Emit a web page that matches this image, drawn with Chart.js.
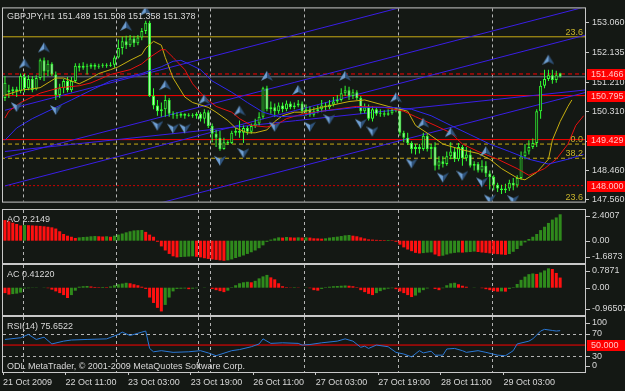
<!DOCTYPE html>
<html>
<head>
<meta charset="utf-8">
<script src="https://cdn.jsdelivr.net/npm/chart.js@4.4.0/dist/chart.umd.min.js"></script>
<style>
body { margin:0; background:#141814; width:625px; height:391px; overflow:hidden; position:relative; }
canvas { position:absolute; left:0; }
</style>
</head>
<body>
<canvas id="main" width="625" height="210" style="top:0px"></canvas>
<canvas id="ao" width="625" height="55" style="top:209px"></canvas>
<canvas id="ac" width="625" height="52" style="top:264px"></canvas>
<canvas id="rsi" width="625" height="75" style="top:316px"></canvas>
<script>
// GBPJPY H1, one value per bar (bar 0 = 21 Oct 19:00)
var opens = [150.72,150.96,150.93,150.99,150.93,151.37,151.02,151.31,150.99,151.34,
  151.89,151.54,151.78,151.45,150.81,151.02,151.25,150.96,151.25,151.72,
  151.66,151.72,151.69,151.75,151.69,151.72,151.75,151.72,151.75,151.98,
  152.27,152.48,152.36,152.57,152.42,152.60,152.80,153.06,150.78,150.49,
  150.31,150.37,150.66,150.23,150.20,150.17,150.23,150.17,150.20,150.17,
  150.23,150.08,150.28,149.85,149.61,149.49,149.14,149.35,149.32,149.64,
  149.70,149.64,149.79,149.67,149.85,149.93,150.14,151.02,150.37,150.43,
  150.31,150.49,150.37,150.55,150.43,150.49,150.55,150.31,150.37,150.20,
  150.31,150.37,150.49,150.43,150.52,150.61,150.66,150.87,150.96,150.78,
  150.90,150.72,150.31,150.43,150.08,150.37,150.23,150.25,150.20,150.25,
  150.34,150.37,149.64,149.49,149.32,149.14,149.20,149.14,149.55,149.14,
  149.20,148.62,148.76,148.67,148.91,149.06,148.82,149.20,148.85,148.97,
  148.62,148.67,148.47,148.62,148.38,148.27,148.03,147.91,147.86,147.91,
  148.09,148.00,148.24,148.91,149.06,149.20,149.32,150.31,151.10,151.31,
  151.43,151.28,151.489]
var highs = [151.40,151.13,151.07,151.07,151.48,151.48,151.43,151.40,151.43,151.95,
  151.98,151.89,151.83,151.54,151.16,151.31,151.37,151.37,151.80,151.80,
  151.83,151.78,151.80,151.80,151.78,151.80,151.80,151.83,152.04,152.54,
  152.62,152.65,152.68,152.65,152.68,152.89,153.12,153.12,151.02,150.66,
  150.58,150.81,150.72,150.31,150.28,150.28,150.25,150.25,150.25,150.28,
  150.28,150.37,150.34,149.93,149.73,149.70,149.49,149.41,149.70,149.79,
  150.02,149.87,149.85,149.93,150.08,150.28,151.07,151.10,150.61,150.55,
  150.58,150.58,150.64,150.61,150.58,150.66,150.61,150.52,150.46,150.43,
  150.49,150.66,150.58,150.66,150.75,150.81,151.02,151.10,151.07,150.99,
  150.96,150.78,150.55,150.52,150.46,150.43,150.37,150.34,150.37,150.43,
  150.43,150.43,149.70,149.64,149.38,149.29,149.29,149.64,149.61,149.29,
  149.35,148.91,148.91,149.06,149.35,149.20,149.32,149.26,149.20,149.11,
  148.76,148.73,148.79,148.76,148.47,148.32,148.09,148.03,148.06,148.18,
  148.24,148.32,149.06,149.29,149.41,149.46,150.37,151.25,151.60,151.60,
  151.60,151.57,151.508]
var lows = [150.63,150.72,150.81,150.75,150.87,150.90,150.96,150.90,150.96,151.28,
  151.25,151.40,151.40,150.66,150.72,150.87,150.90,150.90,151.19,151.54,
  151.60,151.45,151.63,151.60,151.63,151.66,151.66,151.69,151.66,151.95,
  152.07,152.24,152.30,152.30,152.36,152.51,152.71,150.75,150.37,150.17,
  150.14,150.14,150.14,150.08,150.08,150.11,150.08,150.14,150.11,150.08,
  149.99,149.93,149.79,149.35,149.20,149.08,149.11,149.26,149.29,149.55,
  149.49,149.32,149.58,149.61,149.79,149.87,150.08,150.31,150.23,150.14,
  150.23,150.28,150.31,150.37,150.37,150.43,150.23,150.17,150.14,150.14,
  150.25,150.28,150.31,150.37,150.46,150.55,150.61,150.78,150.66,150.69,
  150.66,150.23,150.25,150.02,149.99,150.17,150.14,150.14,150.17,150.20,
  150.28,149.55,149.35,149.26,149.00,148.97,149.00,149.08,149.06,148.85,
  148.47,148.50,148.56,148.62,148.82,148.73,148.76,148.62,148.76,148.56,
  148.47,148.41,148.41,148.27,147.88,147.86,147.80,147.74,147.77,147.83,
  147.86,147.94,148.18,148.82,148.97,149.14,149.20,150.08,151.02,151.25,
  151.16,151.19,151.358]
var closes = [151.19,150.90,150.99,150.93,151.40,151.02,151.31,150.96,151.34,151.89,
  151.54,151.78,151.45,150.81,151.02,151.25,150.96,151.25,151.72,151.66,
  151.72,151.69,151.75,151.69,151.72,151.75,151.72,151.75,151.98,152.27,
  152.48,152.36,152.57,152.42,152.60,152.80,153.06,150.78,150.49,150.31,
  150.37,150.66,150.23,150.20,150.17,150.23,150.17,150.20,150.17,150.23,
  150.08,150.28,149.85,149.61,149.49,149.14,149.35,149.32,149.64,149.70,
  149.64,149.79,149.67,149.85,149.93,150.14,151.02,150.37,150.43,150.31,
  150.49,150.37,150.55,150.43,150.49,150.55,150.31,150.37,150.20,150.31,
  150.37,150.49,150.43,150.52,150.61,150.66,150.87,150.96,150.78,150.90,
  150.72,150.31,150.43,150.08,150.37,150.23,150.25,150.20,150.25,150.34,
  150.37,149.64,149.49,149.32,149.14,149.20,149.14,149.55,149.14,149.20,
  148.62,148.76,148.67,148.91,149.06,148.82,149.20,148.85,148.97,148.62,
  148.67,148.47,148.62,148.38,148.27,148.03,147.91,147.86,147.91,148.09,
  148.00,148.24,148.91,149.06,149.20,149.32,150.31,151.10,151.31,151.43,
  151.28,151.43,151.378]

// alligator lines (bar index, price)
var lipsIdx = [0,4,9,13,15,17,19,22,24,27,29,32,35,36,38,40,41,43,46,48,52,54,57,59,62,64,67,69,71,74,76,81,88,92,98,103,105,109,112,117,121,124,127,131,133,136,139,140,142,144,145]
var lipsVal = [150.81,150.96,151.04,151.34,151.34,151.25,151.16,151.34,151.48,151.60,151.69,151.89,152.07,152.27,152.48,152.36,151.98,151.34,150.75,150.58,
  150.43,150.28,150.02,149.79,149.64,149.64,149.73,149.99,150.17,150.28,150.28,150.43,150.61,150.66,150.46,150.31,149.87,149.55,149.29,149.11,
  149.00,148.82,148.53,148.24,148.18,148.41,148.82,149.41,149.99,150.46,150.66]
var teethIdx = [0,1,4,9,14,19,22,27,32,35,37,40,41,43,46,48,51,54,58,60,63,67,70,72,76,81,90,97,102,105,110,114,117,121,126,131,134,138,141,144,146,148]
var teethVal = [150.10,150.31,150.58,150.87,151.04,151.10,151.19,151.45,151.60,151.78,151.98,152.22,152.22,151.98,151.60,151.16,150.75,150.46,150.28,150.08,
  149.87,149.82,149.93,150.08,150.22,150.31,150.46,150.43,150.31,150.14,149.87,149.64,149.29,149.06,148.82,148.53,148.32,148.53,148.82,149.29,
  149.87,150.17]
var jawIdx = [0,3,7,12,17,22,27,35,40,43,45,47,50,53,58,62,66,70,76,81,90,99,104,109,114,119,124,129,134,139,144,148]
var jawVal = [149.41,149.79,150.08,150.37,150.66,150.96,151.25,151.48,151.69,151.86,151.89,151.78,151.60,151.25,150.90,150.58,150.28,150.14,150.17,150.31,
  150.43,150.43,150.37,150.17,149.87,149.58,149.29,149.06,148.82,148.67,148.82,148.97]

// fractals (bar index)
var fracUp = [5,10,31,36,41,51,60,67,75,87,100,107,114,123,139]
var fracDn = [3,13,39,43,46,55,61,69,78,83,91,94,104,112,117,122,124,130]

// objects on the price window
var trendX0 = [0,0,0,0,0]
var trendP0 = [150.34,148.87,147.99,146.21,149.06]
var trendX1 = [150,150,150,150,150]
var trendP1 = [155.07,153.60,152.72,150.94,150.99]
var hLevels = [152.62,151.466,150.795,149.429,149.29,148.85,148.000]
var boxLevels = [151.466,150.795,149.429,148.000]
var fibLevels = [152.62,149.29,148.85,147.50]
var fibText = ['23.6','0.0','38.2','23.6']
var priceTicks = [153.060,152.135,151.210,150.310,149.385,148.460,147.560]

// oscillators
var ao = [1.73,1.63,1.51,1.40,1.28,1.32,1.30,1.28,1.26,1.24,
  1.21,1.17,1.12,1.02,0.79,0.56,0.42,0.33,0.23,0.28,
  0.31,0.33,0.37,0.39,0.37,0.35,0.37,0.33,0.42,0.51,
  0.60,0.70,0.79,0.86,0.88,0.90,0.74,0.51,0.33,-0.09,
  -0.48,-0.82,-1.11,-1.31,-1.40,-1.37,-1.35,-1.33,-1.31,-1.35,
  -1.40,-1.47,-1.53,-1.57,-1.61,-1.65,-1.6873,-1.65,-1.57,-1.45,
  -1.35,-1.24,-1.11,-0.97,-0.82,-0.63,-0.39,-0.10,0.09,0.19,
  0.28,0.26,0.31,0.28,0.26,0.28,0.26,0.28,0.26,0.20,
  0.19,0.17,0.20,0.26,0.30,0.34,0.39,0.45,0.48,0.42,
  0.37,0.28,0.19,0.11,0.09,0.07,0.06,0.05,0.06,0.04,
  -0.09,-0.33,-0.56,-0.74,-0.88,-1.02,-1.07,-1.04,-1.00,-0.98,
  -1.16,-1.30,-1.26,-1.16,-1.07,-1.02,-0.98,-1.00,-0.97,-0.95,
  -0.91,-0.95,-0.99,-1.02,-1.06,-1.10,-1.13,-1.16,-1.19,-1.12,
  -0.93,-0.70,-0.42,-0.14,0.14,0.33,0.56,0.89,1.17,1.49,
  1.77,1.95,2.2149]
var ac = [-0.22,-0.28,-0.26,-0.24,-0.20,-0.03,-0.02,-0.01,0.01,0.00,
  0.01,-0.02,-0.08,-0.15,-0.22,-0.30,-0.42,-0.30,-0.12,0.04,
  0.06,0.07,0.05,0.03,0.02,0.03,0.02,0.05,0.10,0.14,
  0.17,0.20,0.18,0.14,0.10,0.04,-0.05,-0.40,-0.62,-0.82,
  -0.96507,-0.70,-0.40,-0.15,-0.05,-0.04,-0.03,-0.06,-0.04,-0.02,
  0.00,0.01,0.00,-0.05,-0.10,-0.14,-0.18,-0.12,0.02,0.10,
  0.18,0.22,0.24,0.22,0.28,0.38,0.46,0.52,0.42,0.34,
  0.18,0.06,0.02,0.01,0.02,0.01,0.00,0.01,-0.02,-0.10,
  -0.12,-0.05,0.02,0.04,0.06,0.07,0.08,0.09,0.08,0.06,
  0.02,-0.10,-0.18,-0.25,-0.30,-0.22,-0.14,-0.08,-0.04,-0.02,
  -0.06,-0.15,-0.22,-0.30,-0.38,-0.32,-0.20,-0.10,-0.03,0.00,
  -0.05,-0.10,-0.02,0.10,0.18,0.20,0.14,0.08,0.04,0.00,
  0.01,0.00,-0.02,-0.06,-0.10,-0.14,-0.16,-0.15,-0.16,-0.05,
  0.02,0.15,0.32,0.45,0.55,0.58,0.56,0.62,0.70,0.7871,
  0.76,0.60,0.41220]
var rsiIdx = [0,4,6,8,10,12,15,17,21,26,29,30,32,34,35,36,37,38,40,43,47,50,52,54,58,60,63,65,66,68,71,75,76,78,81,85,87,89,91,92,93,95,98,100,102,104,106,107,109,110,112,113,115,117,118,121,123,126,128,130,131,134,135,137,138,140,141,142]
var rsiVal = [60,63,69,60,64,52,57,59,60,61,69,73,67,71,73,75,44,38,40,37,38,40,36,31,40,42,47,52,61,53,54,53,50,51,54,57,61,57,46,48,44,50,47,37,34,29,40,36,39,32,32,43,44,40,37,40,37,32,31,40,52,57,61,75,78,76,75,75.6522]

var aoLabels = [[2.4007,'2.4007'],[0,'0.00'],[-1.6873,'-1.6873']]
var acLabels = [[0.7871,'0.7871'],[0,'0.00'],[-0.96507,'-0.96507']]
var rsiLabels = [[100,'100'],[70,'70'],[30,'30'],[0,'0']]

var gridX = [5,29,50,53,77,101,125]
var timeTicks = [0,16,32,48,64,80,96,112,128]
var timeLabels = ['21 Oct 2009','22 Oct 11:00','23 Oct 03:00','23 Oct 19:00','26 Oct 11:00','27 Oct 03:00','27 Oct 19:00','28 Oct 11:00','29 Oct 03:00']

var xMax = 148.85
var FONT = '"Liberation Sans", Arial, sans-serif'
var TXT = '#d8d8d8'
var last = closes.length - 1

function arrowImg(up) {
  var c = document.createElement('canvas')
  c.width = 12; c.height = 34
  var g = c.getContext('2d')
  var cy = up ? 7 : 27, s = up ? 1 : -1
  g.fillStyle = '#6f9fd2'
  g.beginPath(); g.moveTo(6, cy - 5 * s); g.lineTo(0, cy + 5 * s); g.lineTo(6, cy + 2 * s); g.closePath(); g.fill()
  g.fillStyle = '#30547c'
  g.beginPath(); g.moveTo(6, cy - 5 * s); g.lineTo(12, cy + 5 * s); g.lineTo(6, cy + 2 * s); g.closePath(); g.fill()
  return c
}

var mt = {
  id: 'mt',
  beforeDatasetsDraw: function(chart, args, o) {
    var ctx = chart.ctx, a = chart.chartArea, x = chart.scales.x, y = chart.scales.y
    ctx.save()
    ctx.lineWidth = 1
    ctx.strokeStyle = '#b4b4b4'
    ctx.setLineDash([3, 3])
    gridX.forEach(function(v) {
      var px = Math.round(x.getPixelForValue(v)) + 0.5
      ctx.beginPath(); ctx.moveTo(px, a.top); ctx.lineTo(px, a.bottom); ctx.stroke()
    })
    ;(o.levels || []).forEach(function(v) {
      var py = Math.round(y.getPixelForValue(v)) + 0.5
      ctx.beginPath(); ctx.moveTo(a.left, py); ctx.lineTo(a.right, py); ctx.stroke()
    })
    ctx.restore()
  },
  afterDraw: function(chart, args, o) {
    var ctx = chart.ctx, a = chart.chartArea, y = chart.scales.y
    ctx.save()
    ctx.strokeStyle = '#c8c8c8'; ctx.lineWidth = 1
    ctx.strokeRect(a.left - 0.5, a.top - 0.5, a.right - a.left + 1, a.bottom - a.top + 1)
    ctx.font = '9px ' + FONT
    ctx.textBaseline = 'middle'
    ctx.fillStyle = TXT
    if (o.title) ctx.fillText(o.title, 7, a.top + o.titleDy)
    if (o.footer) ctx.fillText(o.footer, 7, a.bottom - 5)
    ;(o.labels || []).forEach(function(l) {
      var py = y.getPixelForValue(l[0])
      py = Math.min(Math.max(py, a.top + 6), a.bottom - 6)
      ctx.fillStyle = '#c8c8c8'
      ctx.fillRect(a.right + 1, Math.round(py), 4, 1)
      ctx.fillStyle = TXT
      ctx.fillText(l[1], a.right + 7, py)
    })
    ;(o.fib || []).forEach(function(f) {
      var py = y.getPixelForValue(f[0])
      ctx.fillStyle = '#c8b42c'
      ctx.textAlign = 'right'; ctx.textBaseline = 'alphabetic'
      ctx.fillText(f[1], a.right - 2, Math.min(py - 2, a.bottom - 1))
    })
    ctx.textAlign = 'left'; ctx.textBaseline = 'middle'
    ;(o.boxes || []).forEach(function(b) {
      var py = y.getPixelForValue(b[0])
      ctx.fillStyle = '#ff0000'
      ctx.fillRect(a.right + 2, Math.round(py) - 5, 38, 11)
      ctx.fillStyle = '#ffc4c4'
      ctx.fillText(b[1], a.right + 6, py + 0.5)
    })
    ctx.restore()
  }
}

function lineSet(xs, ys, color, width, dash, order) {
  return { type: 'line', data: xs.map(function(v, i) { return { x: v + 0.5, y: ys[i] } }),
    borderColor: color, borderWidth: width || 1, borderDash: dash || [], pointRadius: 0, tension: 0, order: order }
}

function base(opts) {
  return {
    responsive: false, animation: false, events: [],
    layout: { padding: opts.pad, autoPadding: false },
    plugins: { legend: { display: false }, tooltip: { enabled: false }, mt: opts.mt },
    scales: {
      x: opts.x || { type: 'linear', min: 0, max: xMax, display: false, offset: false },
      y: opts.y
    }
  }
}

function hiddenY(min, max) {
  return { position: 'right', min: min, max: max, afterFit: function(s) { s.width = 40 },
    ticks: { display: false }, grid: { display: false }, border: { display: false } }
}

// ---------- price window ----------
var up = arrowImg(true), dn = arrowImg(false)
var mainSets = []
var hColors = ['#c8aa14','#ff0000','#ff0000','#ff0000','#c8aa14','#c8aa14','#d00000']
var hDash = [[],[4,3],[],[],[4,3],[4,3],[2,2]]
hLevels.forEach(function(p, i) {
  mainSets.push(lineSet([-1, 150], [p, p], hColors[i], 1, hDash[i], 6))
})
mainSets.push(lineSet([-1, 150], [closes[last], closes[last]], '#6e7a8a', 1, [], 6))
trendP0.forEach(function(p, i) {
  mainSets.push(lineSet([trendX0[i], trendX1[i]], [p, trendP1[i]], '#3a1ee6', 1, [], 5))
})
mainSets.push({ type: 'bar', order: 4, grouped: false, barThickness: 1, inflateAmount: 0,
  backgroundColor: '#33ff33',
  data: closes.map(function(c, i) { return { x: i + 0.5, y: [lows[i], highs[i]] } }) })
mainSets.push({ type: 'bar', order: 3, grouped: false, barThickness: 3, inflateAmount: 0, minBarLength: 1,
  borderWidth: 1, borderSkipped: false, borderColor: '#33ff33',
  backgroundColor: closes.map(function(c, i) { return c < opens[i] ? '#b4ffb4' : '#141814' }),
  data: closes.map(function(c, i) { return { x: i + 0.5, y: [opens[i], c] } }) })
mainSets.push(lineSet(jawIdx, jawVal, '#3028f0', 1, [], 2))
mainSets.push(lineSet(teethIdx, teethVal, '#e81010', 1, [], 2))
mainSets.push(lineSet(lipsIdx, lipsVal, '#c8b010', 1, [], 2))
mainSets.push({ type: 'line', showLine: false, order: 1, pointStyle: up, pointRadius: 3,
  data: fracUp.map(function(i) { return { x: i + 0.5, y: highs[i] } }) })
mainSets.push({ type: 'line', showLine: false, order: 1, pointStyle: dn, pointRadius: 3,
  data: fracDn.map(function(i) { return { x: i + 0.5, y: lows[i] } }) })

new Chart(document.getElementById('main'), {
  type: 'bar',
  data: { datasets: mainSets },
  plugins: [mt],
  options: base({
    pad: { left: 3, top: 3, bottom: 2, right: 0 },
    mt: {
      title: 'GBPJPY,H1 ' + [opens[last], highs[last], lows[last], closes[last]].map(function(v) { return v.toFixed(3) }).join(' '),
      titleDy: 8,
      boxes: boxLevels.map(function(p) { return [p, p.toFixed(3)] }),
      fib: fibLevels.map(function(p, i) { return [p, fibText[i]] })
    },
    y: {
      position: 'right', min: 147.504, max: 153.502,
      afterFit: function(s) { s.width = 40 },
      afterBuildTicks: function(s) { s.ticks = priceTicks.map(function(v) { return { value: v } }) },
      ticks: { autoSkip: false, padding: 3, color: TXT, font: { family: FONT, size: 9 },
        callback: function(v) { return v.toFixed(3) } },
      grid: { drawOnChartArea: false, color: '#c8c8c8', tickLength: 4 },
      border: { display: false }
    }
  })
})

// ---------- oscillator windows ----------
function histo(id, vals, min, max, title, labels) {
  new Chart(document.getElementById(id), {
    type: 'bar',
    data: { datasets: [{ grouped: false, barThickness: 3, inflateAmount: 0,
      backgroundColor: vals.map(function(v, i) { return i > 0 && v > vals[i - 1] ? '#2f8a1c' : '#ff1010' }),
      data: vals.map(function(v, i) { return { x: i + 0.5, y: v } }) }] },
    plugins: [mt],
    options: base({
      pad: { left: 3, top: 1, bottom: 1, right: 0 },
      mt: { title: title, titleDy: 10, labels: labels },
      y: hiddenY(min, max)
    })
  })
}
histo('ao', ao, -1.871, 2.575, 'AO ' + ao[last].toFixed(4), aoLabels)
histo('ac', ac, -1.110, 0.923, 'AC ' + ac[last].toFixed(5), acLabels)

// ---------- RSI window ----------
new Chart(document.getElementById('rsi'), {
  type: 'line',
  data: { datasets: [
    lineSet([-1, 150], [50, 50], '#ff0000', 1, [], 2),
    lineSet(rsiIdx, rsiVal, '#2a78d6', 1, [], 1)
  ] },
  plugins: [mt],
  options: base({
    pad: { left: 3, top: 1, bottom: 0, right: 0 },
    mt: { title: 'RSI(14) ' + rsiVal[rsiVal.length - 1].toFixed(4), titleDy: 10,
      labels: rsiLabels, levels: [70, 30], boxes: [[50, '50.000']],
      footer: 'ODL MetaTrader, \u00a9 2001-2009 MetaQuotes Software Corp.' },
    x: {
      type: 'linear', min: 0, max: xMax, offset: false,
      afterFit: function(s) { s.height = 19 },
      afterBuildTicks: function(s) { s.ticks = timeTicks.map(function(v) { return { value: v } }) },
      ticks: { autoSkip: false, maxRotation: 0, minRotation: 0, align: 'start', padding: 2,
        color: TXT, font: { family: FONT, size: 9 },
        callback: function(v, i) { return timeLabels[i] } },
      grid: { drawOnChartArea: false, color: '#c8c8c8', tickLength: 3 },
      border: { display: false }
    },
    y: hiddenY(2, 100)
  })
})
</script>
</body>
</html>
